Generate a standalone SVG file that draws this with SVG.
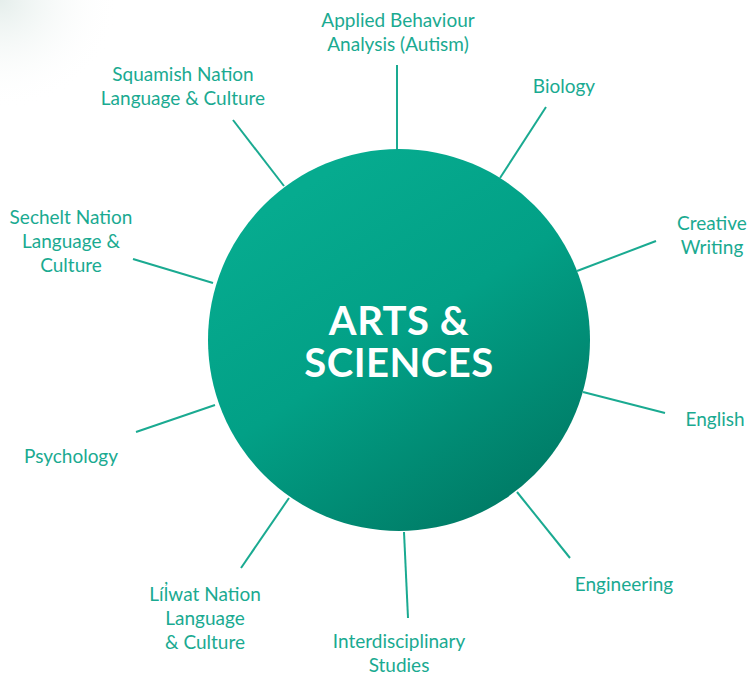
<svg xmlns="http://www.w3.org/2000/svg" width="750" height="675" viewBox="0 0 750 675">
<defs>
<linearGradient id="g" x1="0.25" y1="0.1" x2="0.8" y2="0.95">
<stop offset="0" stop-color="#06ab8f"/>
<stop offset="0.45" stop-color="#02a086"/>
<stop offset="1" stop-color="#007a65"/>
</linearGradient>
<radialGradient id="glow" cx="0" cy="0" r="1">
<stop offset="0" stop-color="#e2ece9" stop-opacity="0.9"/>
<stop offset="1" stop-color="#ffffff" stop-opacity="0"/>
</radialGradient>
</defs>
<style>
.lbl{font-family:Lato,"Open Sans","DejaVu Sans",sans-serif;font-size:19px;fill:#1aaa91;text-anchor:middle}
.ttl{font-family:Lato,"Open Sans","DejaVu Sans",sans-serif;font-size:40px;font-weight:bold;fill:#ffffff;text-anchor:middle;letter-spacing:0.5px}
.ln{stroke:#1aaa91;stroke-width:2;fill:none}
</style>
<rect width="750" height="675" fill="#ffffff"/>
<rect width="120" height="110" fill="url(#glow)"/>
<g id="connectors">
<line class="ln" x1="397" y1="65" x2="397" y2="150"/>
<line class="ln" x1="546" y1="107" x2="500" y2="178"/>
<line class="ln" x1="656" y1="241" x2="577" y2="271"/>
<line class="ln" x1="583" y1="392" x2="665" y2="413"/>
<line class="ln" x1="517" y1="492" x2="570" y2="558"/>
<line class="ln" x1="404" y1="532" x2="408" y2="618"/>
<line class="ln" x1="289" y1="498" x2="241" y2="568"/>
<line class="ln" x1="215" y1="405" x2="136" y2="432"/>
<line class="ln" x1="213" y1="283" x2="133" y2="259"/>
<line class="ln" x1="284" y1="186" x2="233" y2="120"/>
</g>
<g id="center">
<circle cx="399" cy="340" r="191" fill="url(#g)"/>
<text class="ttl" x="399" y="335"><tspan x="399" y="335">ARTS &amp;</tspan><tspan x="399" y="377">SCIENCES</tspan></text>
</g>
<g id="aba"><text class="lbl" x="398" y="27">Applied Behaviour</text><text class="lbl" x="398" y="51">Analysis (Autism)</text></g>
<g id="biology"><text class="lbl" x="564" y="93">Biology</text></g>
<g id="creative"><text class="lbl" x="712" y="230">Creative</text><text class="lbl" x="712" y="254">Writing</text></g>
<g id="english"><text class="lbl" x="715" y="426">English</text></g>
<g id="engineering"><text class="lbl" x="624" y="591">Engineering</text></g>
<g id="interdisciplinary"><text class="lbl" x="399" y="648">Interdisciplinary</text><text class="lbl" x="399" y="672">Studies</text></g>
<g id="lilwat"><text class="lbl" x="205" y="601">Líl̓wat Nation</text><text class="lbl" x="205" y="625">Language</text><text class="lbl" x="205" y="649">&amp; Culture</text></g>
<g id="psychology"><text class="lbl" x="71" y="463">Psychology</text></g>
<g id="sechelt"><text class="lbl" x="71" y="224">Sechelt Nation</text><text class="lbl" x="71" y="248">Language &amp;</text><text class="lbl" x="71" y="272">Culture</text></g>
<g id="squamish"><text class="lbl" x="183" y="81">Squamish Nation</text><text class="lbl" x="183" y="105">Language &amp; Culture</text></g>
</svg>
